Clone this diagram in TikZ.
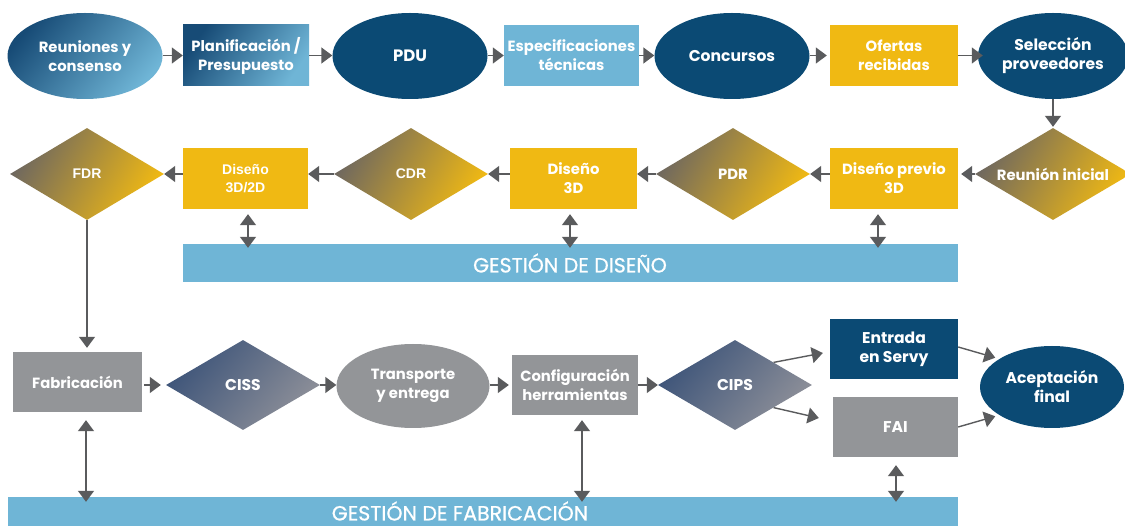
\documentclass[tikz,border=0pt]{standalone}
\usepackage{fontspec}
\setmainfont{Poppins}
\newfontfamily\arialf{Liberation Sans}
\usetikzlibrary{shapes.geometric,arrows.meta,calc}
\definecolor{dblue}{HTML}{0B4A74}
\definecolor{lblue}{HTML}{6FB5D6}
\definecolor{gold}{HTML}{F0B913}
\definecolor{mgray}{HTML}{939598}
\definecolor{agray}{HTML}{5A5B5D}
\definecolor{diadark}{HTML}{6F685F}
\definecolor{bgdark}{HTML}{3D5479}
\definecolor{bglight}{HTML}{8E9099}
\definecolor{gbdark}{HTML}{174B76}
\tikzset{
  base/.style={text=white, font=\bfseries\fontsize{14.8}{19}\selectfont, align=center, inner sep=0pt},
  big/.style={font=\bfseries\fontsize{15.6}{19}\selectfont},
  ell/.style={base, big, ellipse, minimum width=155pt, minimum height=86pt, fill=dblue},
  rbox/.style={base, rectangle, minimum width=127pt, minimum height=61pt},
  dia/.style={base, diamond, minimum width=154pt, minimum height=92pt},
  goldia/.style={dia, top color=diadark, bottom color=gold, shading angle=60},
  bluedia/.style={dia, top color=bgdark, bottom color=bglight, shading angle=50},
  arialtxt/.style={font=\arialf\bfseries\fontsize{14}{18}\selectfont},
  arr/.style={draw=agray, line width=1.4pt, -{Triangle[length=11pt,width=16pt]}},
  dbl/.style={draw=agray, line width=1.4pt, {Triangle[length=11pt,width=16pt]}-{Triangle[length=11pt,width=16pt]}},
  bar/.style={rectangle, fill=lblue, inner sep=0pt, minimum height=38pt},
  bartext/.style={text=white, font=\fontsize{20.5}{22}\selectfont\addfontfeatures{FakeBold=0.8}, inner sep=0pt}
}
\begin{document}
\begin{tikzpicture}[x=1pt,y=-1pt]
\useasboundingbox (0,0) rectangle (1125,526);
\clip (0,0) rectangle (1125,526);
\fill[white] (0,0) rectangle (1125,526);
% row 1
\node[ell, fill=none, font=\bfseries\fontsize{14.8}{19}\selectfont, top color=gbdark, bottom color=lblue, shading angle=50] (reu) at (85,56) {Reuniones y\\consenso};
\node[rbox, minimum width=126pt, top color=gbdark, bottom color=lblue, shading angle=55] (pla) at (246,55.5) {Planificación /\\Presupuesto};
\node[ell, font=\bfseries\fontsize{16.5}{19}\selectfont] (pdu) at (410,56) {PDU};
\node[rbox, minimum width=135pt, fill=lblue] (esp) at (571.5,55.5) {Especificaciones\\técnicas};
\node[ell] (con) at (732,56) {Concursos};
\node[rbox, minimum width=128pt, fill=gold] (ofe) at (894,55.5) {Ofertas\\recibidas};
\node[ell, minimum width=150pt] (sel) at (1053,56) {Selección\\proveedores};
% row 2
\node[goldia, minimum width=156pt, label={[base, name=rint]center:Reunión inicial}] (rin) at (1053,174) {};
\node[rbox, minimum width=128pt, fill=gold] (dpr) at (894,178.5) {Diseño previo\\3D};
\node[goldia] (pdr) at (733,174) {PDR};
\node[rbox, minimum width=127pt, fill=gold] (d3) at (573.5,178.5) {Diseño\\3D};
\node[goldia, arialtxt] (cdr) at (411,174) {CDR};
\node[rbox, minimum width=125pt, fill=gold, arialtxt] (d32) at (245.5,178.5) {Diseño\\3D/2D};
\node[goldia, arialtxt] (fdr) at (87,174) {FDR};
% design bar
\node[bar, minimum width=775pt] (gd) at (570.5,263) {};
\node[bartext] (gdt) at (570,263) {GESTIÓN DE DISEÑO};
% row 3
\node[rbox, minimum width=129pt, minimum height=60pt, fill=mgray] (fab) at (77.5,382) {Fabricación};
\node[bluedia, big, minimum height=90pt] (ciss) at (243,385) {CISS};
\node[base, ellipse, minimum width=153pt, minimum height=84pt, fill=mgray] (tra) at (413,386) {Transporte\\y entrega};
\node[rbox, minimum width=126pt, minimum height=60pt, fill=mgray] (cfg) at (575,385) {Configuración\\herramientas};
\node[bluedia, big, minimum height=90pt] (cips) at (735,385) {CIPS};
\node[rbox, big, minimum width=128pt, minimum height=60pt, fill=dblue] (ent) at (894,349) {Entrada\\en Servy};
\node[rbox, big, minimum width=125pt, minimum height=60pt, fill=mgray] (fai) at (895.5,427) {FAI};
\node[ell, minimum width=144pt, minimum height=82pt] (ace) at (1052,387) {Aceptación\\final};
% fabrication bar
\node[bar, minimum width=950pt] (gf) at (483,516) {};
\node[bartext] (gft) at (460,511) {GESTIÓN DE FABRICACIÓN};
% coordinates for vertical double arrows
\coordinate (xa) at (248,0);
\coordinate (xb) at (570,0);
\coordinate (xc) at (878,0);
\coordinate (xd) at (86,0);
\coordinate (xe) at (582,0);
\coordinate (xf) at (896,0);
% row 1 arrows
\draw[arr] (reu.east |- pla) -- (pla.west);
\draw[arr] (pla.east) -- (pla.east -| pdu.west);
\draw[arr] (pdu.east |- esp) -- (esp.west);
\draw[arr] (esp.east) -- (esp.east -| con.west);
\draw[arr] (con.east |- ofe) -- ([xshift=-3pt]ofe.west);
\draw[arr] (ofe.east) -- ([xshift=5pt]ofe.east -| sel.west);
\draw[arr] (sel.south) -- ([yshift=1pt]rin.north);
% row 2 arrows
\draw[arr] (rin.west) -- ([xshift=3pt]rin.west -| dpr.east);
\draw[arr] (dpr.west |- pdr) -- (pdr.east);
\draw[arr] (pdr.west) -- (pdr.west -| d3.east);
\draw[arr] (d3.west |- cdr) -- (cdr.east);
\draw[arr] (cdr.west) -- (cdr.west -| d32.east);
\draw[arr] (d32.west |- fdr) -- (fdr.east);
\draw[arr] (fdr.south) -- ([yshift=4pt]fdr.south |- fab.north);
% design double arrows
\draw[dbl] ([yshift=-5pt]d32.south -| xa) -- ([yshift=-4pt]gd.north -| xa);
\draw[dbl] ([yshift=-5pt]d3.south -| xb) -- ([yshift=-4pt]gd.north -| xb);
\draw[dbl] ([yshift=-5pt]dpr.south -| xc) -- ([yshift=-4pt]gd.north -| xc);
% row 3 arrows
\draw[arr] ([xshift=2pt]fab.east |- ciss) -- ([xshift=-5pt]ciss.west);
\draw[arr] (ciss.east) -- (ciss.east -| tra.west);
\draw[arr] (tra.east |- cfg) -- ([xshift=-3pt]cfg.west);
\draw[arr] (cfg.east) -- (cfg.east -| cips.west);
\draw[arr] (cips.north east) -- ([xshift=-7pt,yshift=-4pt]ent.west);
\draw[arr] (cips.south east) -- ([xshift=-14pt,yshift=9pt]fai.west);
\draw[arr] ([yshift=2pt]ent.east) -- ([xshift=-6pt]ace.150);
\draw[arr] (fai.east) -- ([xshift=-6pt]ace.210);
% fabrication double arrows
\draw[dbl] ([yshift=-8pt]fab.south -| xd) -- ([yshift=-5pt]gf.north -| xd);
\draw[dbl] ([yshift=-5pt]cfg.south -| xe) -- ([yshift=-5pt]gf.north -| xe);
\draw[dbl] ([yshift=-8pt]fai.south -| xf) -- ([yshift=-5pt]gf.north -| xf);
\end{tikzpicture}
\end{document}
